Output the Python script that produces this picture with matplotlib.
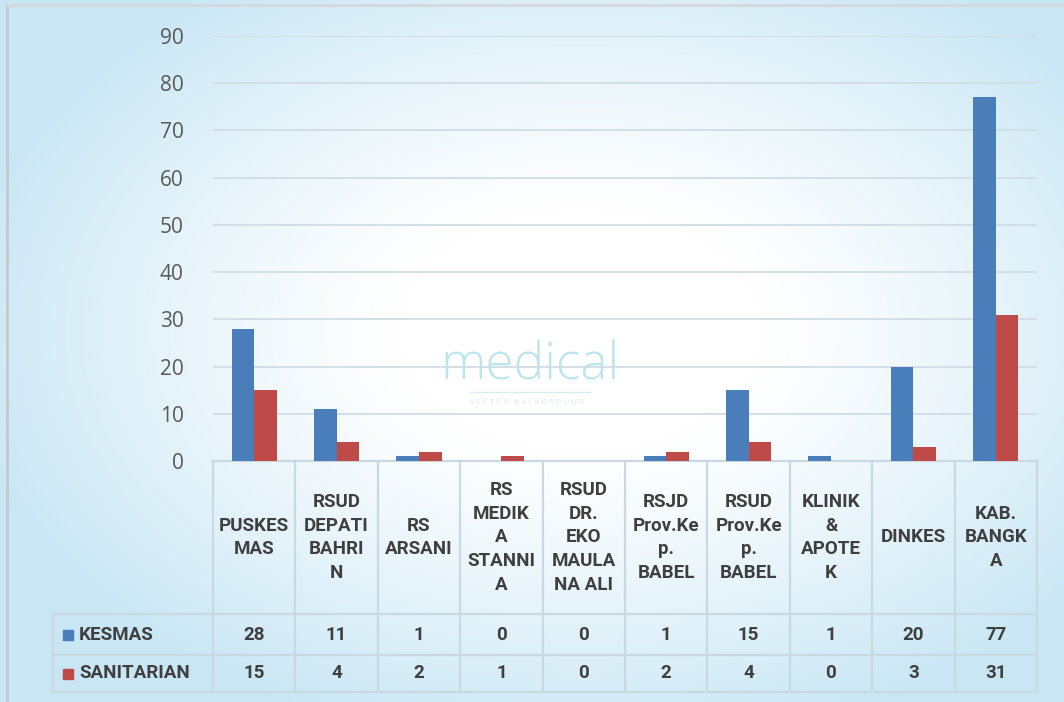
import numpy as np
import matplotlib
matplotlib.use("Agg")
import matplotlib.pyplot as plt
import matplotlib.transforms as mtransforms
from matplotlib.patches import Rectangle

# ---------------- data ----------------
categories = ["PUSKES\nMAS", "RSUD\nDEPATI\nBAHRI\nN", "RS\nARSANI",
              "RS\nMEDIK\nA\nSTANNI\nA", "RSUD\nDR.\nEKO\nMAULA\nNA ALI",
              "RSJD\nProv.Ke\np.\nBABEL", "RSUD\nProv.Ke\np.\nBABEL",
              "KLINIK\n&\nAPOTE\nK", "DINKES", "KAB.\nBANGK\nA"]
kesmas = [28, 11, 1, 0, 0, 1, 15, 1, 20, 77]
sanitarian = [15, 4, 2, 1, 0, 2, 4, 0, 3, 31]
series_names = ["KESMAS", "SANITARIAN"]
yticks = [0, 10, 20, 30, 40, 50, 60, 70, 80, 90]

BLUE = "#4a7ebb"
RED = "#be4b48"
TXT = "#3f3f3f"
GRID = "#d0dde4"
TBL = "#c9d9e2"
TFONT = "Roboto"
TSIZE = 13.5

W, H = 1064, 702
fig = plt.figure(figsize=(W / 100, H / 100), dpi=100)

# ---------------- background ----------------
bg = fig.add_axes([0, 0, 1, 1], zorder=-10)
yy, xx = np.mgrid[0:H, 0:W]
d = np.sqrt(((xx - 580) / 600.0) ** 2 + ((yy - 330) / 400.0) ** 2)
t = np.clip((d - 0.3) / 0.75, 0, 1) ** 1.2
c_in = np.array([1.0, 1.0, 1.0])
c_out = np.array([0.79, 0.905, 0.96])
img = c_in[None, None, :] * (1 - t[..., None]) + c_out[None, None, :] * t[..., None]
bg.imshow(img, extent=[0, W, H, 0], aspect="auto")
bg.set_xlim(0, W)
bg.set_ylim(H, 0)
bg.axis("off")
bg.plot([7, 7], [5, H], color="#c4c8cc", lw=2)
bg.plot([7, W], [5, 5], color="#d4d8dc", lw=2)
bg.text(530, 366, "medical", fontsize=37, color="#bde5ee", ha="center",
        va="center", family="Open Sans", fontweight="light")
bg.plot([470, 590], [392, 392], color="#d3edf3", lw=1)
bg.text(527, 402, "V E C T O R   B A C K G R O U N D", fontsize=5.5,
        color="#d3edf3", ha="center", va="center", family="Open Sans")

# ---------------- main axes ----------------
left_px, right_px, top_px, bot_px = 213, 1037, 36, 461
ax = fig.add_axes([left_px / W, (H - bot_px) / H, (right_px - left_px) / W,
                   (bot_px - top_px) / H])
ax.patch.set_alpha(0)
n = len(categories)
x = np.arange(n)
bw = 0.275
ax.bar(x - bw / 2, kesmas, bw, color=BLUE, zorder=3)
ax.bar(x + bw / 2, sanitarian, bw, color=RED, zorder=3)
ax.set_xlim(-0.5, n - 0.5)
ax.set_ylim(0, 90)
ax.set_yticks(yticks)
ax.set_yticklabels([str(v) for v in yticks], fontsize=15, color="#595959",
                   family="Open Sans")
ax.tick_params(axis="y", length=0, pad=21)
ax.set_xticks([])
ax.yaxis.grid(True, color=GRID, lw=1.3, zorder=0)
for s in ax.spines.values():
    s.set_visible(False)

# ---------------- data table ----------------
trans = mtransforms.blended_transform_factory(ax.transData, ax.transAxes)
colw = (right_px - left_px) / n


def ya(p):
    return (bot_px - p) / (bot_px - top_px)


def xd(p):
    return -0.5 + (p - left_px) / colw


row_y = [461, 614, 655, 692]
xl = xd(53)
kw = dict(transform=trans, clip_on=False, color=TBL, lw=1.6)
ax.plot([-0.5, n - 0.5], [ya(461)] * 2, **kw)
for p in row_y[1:]:
    ax.plot([xl, n - 0.5], [ya(p)] * 2, **kw)
for i in range(n + 1):
    ax.plot([i - 0.5] * 2, [ya(461), ya(692)], **kw)
ax.plot([xl] * 2, [ya(614), ya(692)], **kw)

tkw = dict(transform=trans, ha="center", va="center", fontsize=TSIZE,
           fontweight="bold", color=TXT, family=TFONT, clip_on=False)
for i, lab in enumerate(categories):
    ax.text(i, ya(537.5), lab, linespacing=1.4, **tkw)
    ax.text(i, ya(634.5), str(kesmas[i]), **tkw)
    ax.text(i, ya(673.5), str(sanitarian[i]), **tkw)

for name, col, yc in zip(series_names, [BLUE, RED], [634.5, 673.5]):
    sq = 10
    ax.add_patch(Rectangle((xd(63), ya(yc + sq / 2)), sq / colw,
                           sq / (bot_px - top_px), transform=trans,
                           color=col, clip_on=False))
    ax.text(xd(79), ya(yc), name, transform=trans, ha="left", va="center",
            fontsize=TSIZE, fontweight="bold", color=TXT, family=TFONT,
            clip_on=False)

fig.savefig("out.png", dpi=100)
